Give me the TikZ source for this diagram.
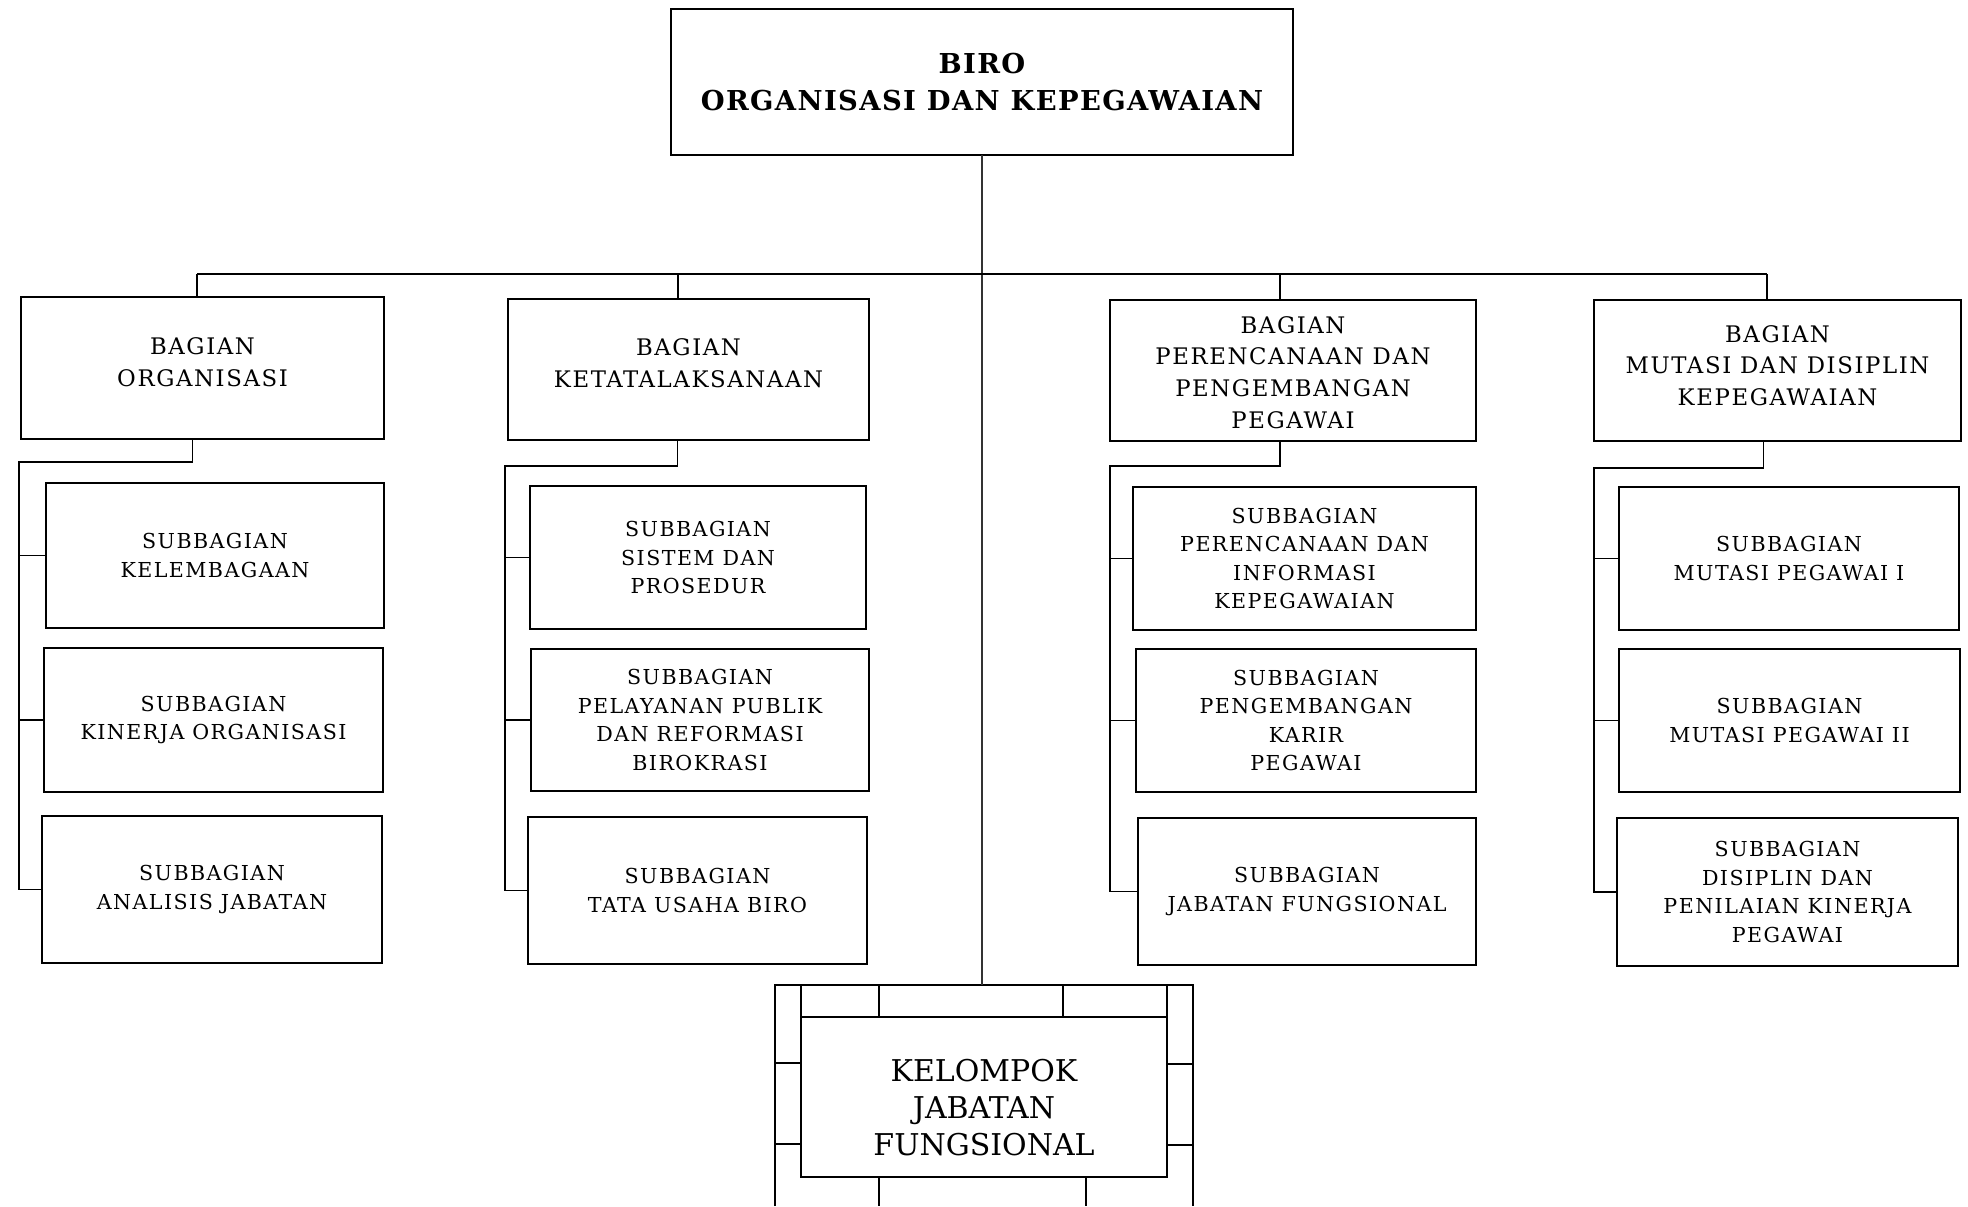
\documentclass[tikz,border=0pt]{standalone}
\usepackage{fontspec}
\setmainfont{DejaVu Serif}
\newfontfamily\spaced{DejaVu Serif}[LetterSpace=7]
\newfontfamily\headfont{DejaVu Serif}[LetterSpace=5]
\usetikzlibrary{calc}
\newcommand\subsz{\spaced\fontsize{10.3}{14.2}\selectfont}
\newcommand\bagsz{\spaced\fontsize{11.4}{15.9}\selectfont}
\newcommand\titlesz{\headfont\bfseries\fontsize{13.7}{18.5}\selectfont}
\newcommand\kelsz{\fontsize{15}{18.5}\selectfont}
\tikzset{
  box/.style={draw, line width=0.85pt, rectangle, inner sep=0pt, outer sep=0pt,
              anchor=north west, align=center},
  headbox/.style={box, font=\titlesz},
  bagbox/.style={box},
  bagtxt/.style={font=\bagsz, align=center, inner sep=0pt},
  subbox/.style={box, font=\subsz},
  conn/.style={line width=0.8pt},
  trunk/.style={line width=0.6pt, black!80},
  frame/.style={line width=0.85pt},
}
\begin{document}
\begin{tikzpicture}[x=0.5pt, y=-0.5pt]
\useasboundingbox (0,0) rectangle (1968,1206);

% head office
\node[headbox, minimum width=311pt, minimum height=73pt] (top) at (671,9)
  {BIRO\\ORGANISASI DAN KEPEGAWAIAN};

% divisions (frames, then their captions)
\node[bagbox, minimum width=181.5pt, minimum height=71pt] (b1) at (21,297) {};
\node[bagbox, minimum width=180.5pt, minimum height=70.5pt] (b2) at (508,299) {};
\node[bagbox, minimum width=183pt, minimum height=70.5pt] (b3) at (1110,300) {};
\node[bagbox, minimum width=183.5pt, minimum height=70.5pt] (b4) at (1594,300) {};
\node[bagtxt] (b1t) at ($(b1.center)+(0,-6)$) {BAGIAN\\ORGANISASI};
\node[bagtxt] (b2t) at ($(b2.center)+(0,-6)$) {BAGIAN\\KETATALAKSANAAN};
\node[bagtxt] (b3t) at ($(b3.center)+(0,2)$)
  {BAGIAN\\PERENCANAAN DAN\\PENGEMBANGAN\\PEGAWAI};
\node[bagtxt] (b4t) at ($(b4.center)+(0,-5)$)
  {BAGIAN\\MUTASI DAN DISIPLIN\\KEPEGAWAIAN};

% sub-divisions, column 1
\node[subbox, minimum width=169pt, minimum height=72.5pt] (s11) at (46,483)
  {SUBBAGIAN\\KELEMBAGAAN};
\node[subbox, minimum width=169.5pt, minimum height=72pt] (s12) at (44,648)
  {SUBBAGIAN\\KINERJA ORGANISASI};
\node[subbox, minimum width=170pt, minimum height=73.5pt] (s13) at (42,816)
  {SUBBAGIAN\\ANALISIS JABATAN};

% sub-divisions, column 2
\node[subbox, minimum width=168pt, minimum height=71.5pt] (s21) at (530,486)
  {SUBBAGIAN\\SISTEM DAN\\PROSEDUR};
\node[subbox, minimum width=169pt, minimum height=71pt] (s22) at (531,649)
  {SUBBAGIAN\\PELAYANAN PUBLIK\\DAN REFORMASI\\BIROKRASI};
\node[subbox, minimum width=169.5pt, minimum height=73.5pt] (s23) at (528,817)
  {SUBBAGIAN\\TATA USAHA BIRO};

% sub-divisions, column 3
\node[subbox, minimum width=171.5pt, minimum height=71.5pt] (s31) at (1133,487)
  {SUBBAGIAN\\PERENCANAAN DAN\\INFORMASI\\KEPEGAWAIAN};
\node[subbox, minimum width=170pt, minimum height=71.5pt] (s32) at (1136,649)
  {SUBBAGIAN\\PENGEMBANGAN\\KARIR\\PEGAWAI};
\node[subbox, minimum width=169pt, minimum height=73.5pt] (s33) at (1138,818)
  {SUBBAGIAN\\JABATAN FUNGSIONAL};

% sub-divisions, column 4
\node[subbox, minimum width=170pt, minimum height=71.5pt] (s41) at (1619,487)
  {SUBBAGIAN\\MUTASI PEGAWAI I};
\node[subbox, minimum width=170.5pt, minimum height=71.5pt] (s42) at (1619,649)
  {SUBBAGIAN\\MUTASI PEGAWAI II};
\node[subbox, minimum width=170.5pt, minimum height=74pt] (s43) at (1617,818)
  {SUBBAGIAN\\DISIPLIN DAN\\PENILAIAN KINERJA\\PEGAWAI};

% functional group
\node[box, minimum width=183pt, minimum height=80pt] (kel) at (801,1017) {};
\node[font=\kelsz, align=center, inner sep=0pt] (keltxt) at ($(kel.center)+(0,11)$)
  {KELOMPOK\\JABATAN\\FUNGSIONAL};

% frame around the functional group
\coordinate (kTL) at (775,985);
\coordinate (kTR) at (1193,985);
\coordinate (kBL) at (775,1206);
\coordinate (kBR) at (1193,1206);
\draw[frame] (kBL) -- (kTL) -- (kTR) -- (kBR);
\draw[frame] (kel.north west) -- (kel.north west |- kTL);
\draw[frame] (kel.north east) -- (kel.north east |- kTL);
\draw[frame] (879,985) -- (879,1017);
\draw[frame] (1063,985) -- (1063,1017);
\draw[frame] (775,1063) -- (kel.west |- 0,1063);
\draw[frame] (775,1144) -- (kel.west |- 0,1144);
\draw[frame] (kel.east |- 0,1064) -- (1193,1064);
\draw[frame] (kel.east |- 0,1145) -- (1193,1145);
\draw[frame] (879,1177) -- (879,1206);
\draw[frame] (1086,1177) -- (1086,1206);

% main trunk and bus
\draw[trunk] (top.south) -- (top.south |- kTL);
\coordinate (bus1) at (197,274);
\coordinate (bus2) at (678,274);
\coordinate (bus3) at (1280,274);
\coordinate (bus4) at (1767,274);
\draw[conn] (bus1) -- (bus4);
\draw[conn] (bus1) -- (bus1 |- b1.north);
\draw[conn] (bus2) -- (bus2 |- b2.north);
\draw[conn] (bus3) -- (bus3 |- b3.north);
\draw[conn] (bus4) -- (bus4 |- b4.north);

% column 1 spine
\coordinate (c1) at (19,462);
\draw[conn] ($(b1.south)+(-10,0)$) |- (c1) |- (s13.west);
\draw[conn] (c1 |- s11.west) -- (s11.west);
\draw[conn] (c1 |- s12.west) -- (s12.west);

% column 2 spine
\coordinate (c2) at (505,466);
\draw[conn] ($(b2.south)+(-11,0)$) |- (c2) |- (s23.west);
\draw[conn] (c2 |- s21.west) -- (s21.west);
\draw[conn] (c2 |- s22.west) -- (s22.west);

% column 3 spine
\coordinate (c3) at (1110,466);
\draw[conn] ($(b3.south)+(-13,0)$) |- (c3) |- (s33.west);
\draw[conn] (c3 |- s31.west) -- (s31.west);
\draw[conn] (c3 |- s32.west) -- (s32.west);

% column 4 spine
\coordinate (c4) at (1594,468);
\draw[conn] ($(b4.south)+(-14,0)$) |- (c4) |- (s43.west);
\draw[conn] (c4 |- s41.west) -- (s41.west);
\draw[conn] (c4 |- s42.west) -- (s42.west);
\end{tikzpicture}
\end{document}
